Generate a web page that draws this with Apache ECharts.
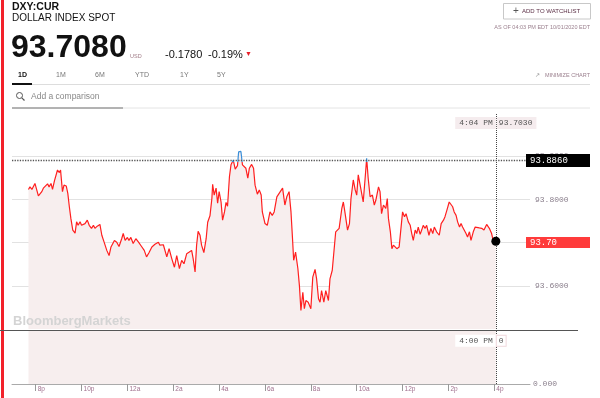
<!DOCTYPE html>
<html>
<head>
<meta charset="utf-8">
<title>DXY:CUR</title>
<script src="https://cdn.jsdelivr.net/npm/echarts@6/dist/echarts.min.js"></script>
<style>
html, body { margin: 0; padding: 0; background: #fff; }
#chart { width: 600px; height: 398px; }
</style>
</head>
<body>
<div id="chart"></div>
<script>
// intraday quotes, 10/01/2020 (evening of the day before -> 4:04 PM)
var times = [
    '19:41','19:45','19:50','19:58','20:03','20:07','20:16','20:20','20:24','20:31',
    '20:35','20:40','20:44','20:49','20:53','20:57','21:02','21:05','21:10','21:14',
    '21:20','21:24','21:28','21:32','21:37','21:43','21:47','21:51','21:56','22:00',
    '22:09','22:15','22:20','22:26','22:31','22:35','22:41','22:48','22:53','22:59',
    '23:06','23:12','23:17','23:26','23:32','23:38','23:45','23:49','23:54','00:00',
    '00:04','00:09','00:15','00:22','00:29','00:37','00:44','00:50','00:56','01:04',
    '01:12','01:21','01:25','01:34','01:43','01:49','01:56','02:03','02:09','02:16',
    '02:22','02:28','02:35','02:42','02:48','02:52','02:57','03:01','03:05','03:10',
    '03:14','03:20','03:26','03:30','03:36','03:41','03:43','03:47','03:52','03:56',
    '04:00','04:05','04:09','04:14','04:18','04:22','04:27','04:31','04:37','04:42',
    '04:48','04:51','04:57','05:01','05:06','05:10','05:15','05:19','05:25','05:30',
    '05:34','05:40','05:45','05:50','05:53','06:00','06:06','06:13','06:19','06:24',
    '06:31','06:37','06:42','06:46','06:52','06:57','07:03','07:08','07:12','07:15',
    '07:20','07:26','07:30','07:34','07:39','07:43','07:47','07:53','08:00','08:05',
    '08:11','08:15','08:20','08:24','08:28','08:34','08:39','08:46','08:50','08:56',
    '09:01','09:05','09:10','09:14','09:21','09:25','09:29','09:36','09:41','09:45',
    '09:51','09:56','10:00','10:04','10:09','10:13','10:17','10:22','10:26','10:30',
    '10:35','10:41','10:46','10:50','10:57','11:01','11:05','11:10','11:16','11:20',
    '11:23','11:28','11:32','11:36','11:40','11:45','11:51','11:56','12:00','12:05',
    '12:09','12:15','12:20','12:24','12:28','12:33','12:37','12:41','12:46','12:50',
    '12:54','12:59','13:03','13:09','13:14','13:19','13:23','13:29','13:36','13:41',
    '13:47','13:51','13:56','14:02','14:07','14:11','14:15','14:20','14:24','14:29',
    '14:33','14:37','14:42','14:46','14:50','14:55','14:59','15:05','15:10','15:14',
    '15:21','15:27','15:33','15:40','15:47','15:53','15:58','16:01','16:04'
];
var prices = [
    93.823,93.829,93.823,93.837,93.833,93.808,93.818,93.826,93.823,93.836,
    93.829,93.837,93.823,93.843,93.839,93.868,93.862,93.868,93.818,93.833,
    93.831,93.814,93.783,93.756,93.729,93.722,93.748,93.740,93.748,93.740,
    93.744,93.752,93.740,93.733,93.740,93.733,93.738,93.742,93.717,93.701,
    93.682,93.670,93.690,93.705,93.701,93.691,93.709,93.721,93.705,93.712,
    93.705,93.712,93.698,93.709,93.701,93.691,93.682,93.667,93.676,93.690,
    93.696,93.701,93.694,93.695,93.667,93.686,93.663,93.643,93.670,93.640,
    93.659,93.651,93.674,93.678,93.682,93.663,93.632,93.694,93.726,93.717,
    93.694,93.677,93.709,93.747,93.762,93.802,93.835,93.810,93.826,93.791,
    93.818,93.794,93.752,93.771,93.793,93.784,93.853,93.880,93.891,93.870,
    93.878,93.910,93.911,93.880,93.876,93.872,93.849,93.872,93.881,93.872,
    93.833,93.812,93.822,93.810,93.771,93.744,93.740,93.771,93.763,93.771,
    93.806,93.814,93.810,93.826,93.787,93.806,93.818,93.771,93.709,93.659,
    93.678,93.640,93.601,93.543,93.585,93.547,93.566,93.562,93.547,93.620,
    93.638,93.616,93.570,93.562,93.589,93.562,93.589,93.566,93.616,93.636,
    93.640,93.725,93.721,93.733,93.779,93.794,93.771,93.729,93.744,93.802,
    93.845,93.822,93.810,93.857,93.833,93.829,93.794,93.849,93.895,93.849,
    93.806,93.810,93.787,93.798,93.829,93.818,93.767,93.787,93.779,93.802,
    93.756,93.725,93.686,93.694,93.698,93.686,93.690,93.686,93.771,93.760,
    93.767,93.748,93.740,93.721,93.705,93.729,93.721,93.736,93.719,93.729,
    93.740,93.733,93.740,93.717,93.733,93.721,93.736,93.725,93.717,93.744,
    93.752,93.760,93.775,93.794,93.791,93.783,93.771,93.763,93.748,93.736,
    93.744,93.736,93.740,93.721,93.713,93.725,93.705,93.725,93.736,93.733,
    93.734,93.733,93.729,93.742,93.733,93.721,93.701,93.697,93.703
];
var prevClose = 93.886;
var volumeTimes = ['16:00'];
var volumes = [0];

// x axis ticks, in hours (8p = 20 ... 4p = 40)
var tickHours = [20, 22, 24, 26, 28, 30, 32, 34, 36, 38, 40];
var tickLabels = ['8p', '10p', '12a', '2a', '4a', '6a', '8a', '10a', '12p', '2p', '4p'];
var priceTicks = [93.6, 93.8, 93.9];
var volumeTicks = [0];

// header
var symbol = 'DXY:CUR';
var longName = 'DOLLAR INDEX SPOT';
var quote = '93.7080';
var netChange = '-0.1780';
var pctChange = '-0.19%';
var asOf = 'AS OF 04:03 PM EDT 10/01/2020 EDT';
var tabs = ['1D', '1M', '6M', 'YTD', '1Y', '5Y'];

var sans = '"Liberation Sans", Arial, sans-serif';
var mono = '"Liberation Mono", "DejaVu Sans Mono", monospace';
var pink = '#f7eeee';
var red = '#ff1f1f';
var blue = '#3a8fd9';

function toHours(t) {
    var p = t.split(':');
    var h = +p[0] + (+p[1]) / 60;
    return h < 19 ? h + 24 : h;
}
function toClock(t) {
    var p = t.split(':');
    var h = +p[0];
    var ap = h >= 12 ? 'PM' : 'AM';
    h = h % 12 || 12;
    return h + ':' + p[1] + ' ' + ap;
}

var data = times.map(function (t, i) { return [toHours(t), prices[i]]; });
var volumeData = volumeTimes.map(function (t, i) { return [toHours(t), volumes[i]]; });
var firstH = data[0][0];
var lastH = data[data.length - 1][0];
var lastV = prices[prices.length - 1];
var lastT = times[times.length - 1];

var xMin = 18.966, xMax = 41.557;

function txt(x, y, text, size, color, extra) {
    var style = {
        text: text, fontSize: size, fontFamily: sans, fill: color,
        verticalAlign: 'middle', align: 'left'
    };
    for (var k in extra) { style[k] = extra[k]; }
    return { type: 'text', x: x, y: y, silent: true, style: style };
}
function hline(x1, x2, y, color, w) {
    return { type: 'line', silent: true, shape: { x1: x1, y1: y, x2: x2, y2: y }, style: { stroke: color, lineWidth: w || 1 } };
}

var watermark = txt(13, 321, 'BloombergMarkets', 13, '#d4d4d4', { fontWeight: 'bold' });
watermark.z = 50;
var divider = hline(0, 578, 330.5, '#555');
divider.z = 50;

var tabX = [18, 56, 95, 135, 180, 217];
var graphics = [
    { type: 'rect', silent: true, shape: { x: 1, y: 0, width: 3, height: 398 }, style: { fill: '#f2212a' } },
    txt(12, 7.5, symbol, 10.5, '#111', { fontWeight: 'bold' }),
    txt(12, 18, longName, 10, '#111'),
    txt(11, 48.5, quote, 32, '#111', { fontWeight: 'bold' }),
    txt(130, 56.5, 'USD', 5.5, '#a07b86'),
    txt(165, 54.5, netChange, 11, '#111'),
    txt(208, 54.5, pctChange, 11, '#111'),
    txt(245, 54, '\u25BC', 7, '#e8202a'),
    hline(12, 590, 84.5, '#dddddd'),
    { type: 'rect', silent: true, shape: { x: 12, y: 83, width: 20, height: 2 }, style: { fill: '#111' } },
    { type: 'circle', silent: true, shape: { cx: 19.5, cy: 95.5, r: 3 }, style: { stroke: '#555', fill: 'none', lineWidth: 1 } },
    { type: 'line', silent: true, shape: { x1: 21.8, y1: 97.8, x2: 24.5, y2: 100.5 }, style: { stroke: '#555', lineWidth: 1.2 } },
    txt(31, 97, 'Add a comparison', 8.5, '#888'),
    hline(12, 123, 108, '#666'),
    hline(123, 590, 108, '#e4e4e4'),
    { type: 'rect', silent: true, shape: { x: 503.5, y: 3.5, width: 87, height: 15.5 }, style: { fill: '#fff', stroke: '#c8c8c8', lineWidth: 1 } },
    txt(513, 11.5, '+', 10, '#555'),
    txt(522, 11.5, 'ADD TO WATCHLIST', 6, '#5b2f45'),
    txt(590, 27.5, asOf, 5.5, '#9a7f8d', { align: 'right' }),
    txt(590, 75, 'MINIMIZE CHART', 5.5, '#9a7f8d', { align: 'right' }),
    txt(540, 75, '\u2197', 6, '#888', { align: 'right' }),
    watermark,
    divider
];
tabs.forEach(function (t, i) {
    graphics.push(txt(tabX[i], 75, t, 7, i === 0 ? '#111' : '#777', { fontWeight: i === 0 ? 'bold' : 'normal' }));
});

var chart = echarts.init(document.getElementById('chart'));
chart.setOption({
    animation: false,
    graphic: graphics,
    grid: [
        { left: 12, right: 70, top: 113, height: 216 },
        { left: 12, right: 70, top: 330, height: 54 }
    ],
    xAxis: [
        { gridIndex: 0, type: 'value', min: xMin, max: xMax, show: false },
        {
            gridIndex: 1, type: 'value', min: xMin, max: xMax,
            axisLine: { lineStyle: { color: '#aaaaaa' } },
            axisTick: { show: true, customValues: tickHours, length: 7, lineStyle: { color: '#999' } },
            axisLabel: {
                customValues: tickHours,
                formatter: function (v) { return tickLabels[tickHours.indexOf(v)]; },
                align: 'left', margin: 2, padding: [0, 0, 0, 2],
                color: '#a0708e', fontSize: 6.5, fontFamily: sans
            },
            splitLine: { show: false }
        }
    ],
    yAxis: [
        {
            gridIndex: 0, type: 'value', position: 'right', min: 93.5, max: 94.0, interval: 0.1,
            axisLine: { show: false }, axisTick: { show: false },
            axisLabel: {
                customValues: priceTicks,
                formatter: function (v) { return v.toFixed(4); },
                margin: 5, color: '#8a7f8c', fontSize: 8, fontFamily: mono
            },
            splitLine: { show: true, showMinLine: false, showMaxLine: false, lineStyle: { color: '#e2e2e2' } }
        },
        {
            gridIndex: 1, type: 'value', position: 'right', min: 0, max: 1,
            axisLine: { show: false }, axisTick: { show: false },
            axisLabel: {
                customValues: volumeTicks,
                formatter: function (v) { return v.toFixed(3); },
                margin: 3, color: '#8a7f8c', fontSize: 8, fontFamily: mono
            },
            splitLine: { show: false }
        }
    ],
    series: [
        {
            name: 'DXY', type: 'line', xAxisIndex: 0, yAxisIndex: 0,
            data: data, symbol: 'none', showSymbol: false,
            lineStyle: { width: 1.2, color: red },
            areaStyle: { color: pink, opacity: 1, origin: 'start' },
            markLine: {
                silent: true, symbol: ['none', 'none'], animation: false,
                data: [
                    { xAxis: lastH, lineStyle: { type: 'dotted', color: '#444', width: 1 }, label: { show: false } },
                    {
                        yAxis: prevClose, lineStyle: { type: 'dotted', color: '#555', width: 1.3 },
                        label: {
                            show: true, position: 'end', distance: -4, formatter: prevClose.toFixed(4),
                            backgroundColor: '#000', color: '#fff', fontFamily: mono, fontSize: 9,
                            width: 56, padding: [2, 4]
                        }
                    },
                    {
                        yAxis: lastV, lineStyle: { color: 'rgba(0,0,0,0)', width: 0 },
                        label: {
                            show: true, position: 'end', distance: -4, formatter: lastV.toFixed(2),
                            backgroundColor: '#ff3b3b', color: '#fff', fontFamily: mono, fontSize: 9,
                            width: 56, padding: [1, 4]
                        }
                    }
                ]
            },
            markPoint: {
                silent: true, animation: false,
                data: [
                    { coord: [lastH, lastV], symbol: 'circle', symbolSize: 9, itemStyle: { color: '#000' }, label: { show: false } },
                    {
                        coord: [lastH, 93.977], symbol: 'circle', symbolSize: 0,
                        label: {
                            show: true, position: 'left', distance: 0, formatter: toClock(lastT),
                            backgroundColor: '#f5ecee', color: '#555', fontFamily: mono, fontSize: 8, padding: [2, 3, 2, 4]
                        }
                    },
                    {
                        coord: [lastH, 93.977], symbol: 'circle', symbolSize: 0,
                        label: {
                            show: true, position: 'right', distance: 1, formatter: lastV.toFixed(4),
                            backgroundColor: '#f5ecee', color: '#555', fontFamily: mono, fontSize: 8, padding: [2, 4, 2, 2]
                        }
                    }
                ]
            }
        },
        {
            name: 'Volume', type: 'bar', xAxisIndex: 1, yAxisIndex: 1,
            data: volumeData, barWidth: 2, itemStyle: { color: '#ff3b3b' },
            markArea: {
                silent: true, itemStyle: { color: pink },
                data: [[{ xAxis: firstH }, { xAxis: lastH }]]
            },
            markLine: {
                silent: true, symbol: ['none', 'none'], animation: false,
                data: [{ xAxis: lastH, lineStyle: { type: 'dotted', color: '#444', width: 1 }, label: { show: false } }]
            },
            markPoint: {
                silent: true, animation: false,
                data: [
                    {
                        coord: [lastH, 0.8], symbol: 'circle', symbolSize: 0,
                        label: {
                            show: true, position: 'left', distance: 0, formatter: toClock(volumeTimes[0]),
                            backgroundColor: '#fff', color: '#555', fontFamily: mono, fontSize: 8, padding: [2, 3, 2, 4]
                        }
                    },
                    {
                        coord: [lastH, 0.8], symbol: 'circle', symbolSize: 0,
                        label: {
                            show: true, position: 'right', distance: 1, formatter: String(volumes[0]),
                            backgroundColor: '#fff', borderColor: '#f0d8dc', borderWidth: 1,
                            color: '#555', fontFamily: mono, fontSize: 8, padding: [1, 2]
                        }
                    }
                ]
            }
        }
    ]
});

// line turns blue above the previous close: split the stroke colour at that pixel row
var splitY = chart.convertToPixel({ yAxisIndex: 0 }, prevClose);
var stop = splitY / 398;
chart.setOption({
    series: [{
        name: 'DXY',
        lineStyle: {
            color: new echarts.graphic.LinearGradient(0, 0, 0, 398, [
                { offset: 0, color: blue },
                { offset: stop, color: blue },
                { offset: stop, color: red },
                { offset: 1, color: red }
            ], true)
        }
    }]
});
</script>
</body>
</html>
